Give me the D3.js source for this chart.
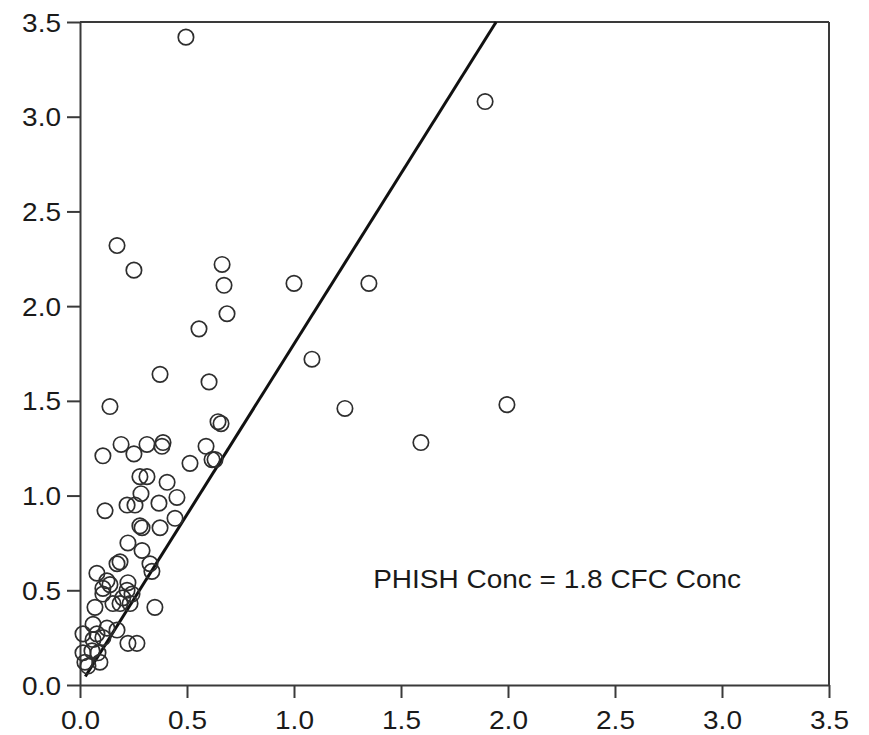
<!DOCTYPE html>
<html>
<head>
<meta charset="utf-8">
<script src="https://cdn.jsdelivr.net/npm/d3@7/dist/d3.min.js"></script>
<style>
  html, body { margin: 0; padding: 0; background: #fff; }
  svg { display: block; }
  text { font-family: "Liberation Sans", Arial, Helvetica, sans-serif; fill: #1a1a1a; }
</style>
</head>
<body>
<svg id="chart" width="869" height="735"></svg>
<script>
// CFC concentration (x) for each sample
const cfcConc = [
  0.495, 1.893, 0.173, 0.252, 0.664, 0.673, 0.687, 1.000, 1.350, 0.556,
  1.084, 0.374, 0.603, 0.140, 1.238, 1.995, 1.593, 0.645, 0.659, 0.589,
  0.617, 0.631, 0.514, 0.388, 0.383, 0.313, 0.192, 0.252, 0.107, 0.280,
  0.313, 0.407, 0.285, 0.453, 0.117, 0.220, 0.257, 0.369, 0.280, 0.290,
  0.374, 0.444, 0.224, 0.290, 0.173, 0.187, 0.327, 0.336, 0.079, 0.126,
  0.140, 0.107, 0.107, 0.224, 0.220, 0.243, 0.200, 0.187, 0.234, 0.070,
  0.350, 0.154, 0.061, 0.014, 0.079, 0.126, 0.173, 0.061, 0.107, 0.224,
  0.266, 0.014, 0.056, 0.084, 0.023, 0.093, 0.037
];
// PHISH concentration (y) for each sample
const phishConc = [
  3.42, 3.08, 2.32, 2.19, 2.22, 2.11, 1.96, 2.12, 2.12, 1.88,
  1.72, 1.64, 1.60, 1.47, 1.46, 1.48, 1.28, 1.39, 1.38, 1.26,
  1.19, 1.19, 1.17, 1.28, 1.26, 1.27, 1.27, 1.22, 1.21, 1.10,
  1.10, 1.07, 1.01, 0.99, 0.92, 0.95, 0.95, 0.96, 0.84, 0.83,
  0.83, 0.88, 0.75, 0.71, 0.64, 0.65, 0.64, 0.60, 0.59, 0.55,
  0.53, 0.51, 0.48, 0.54, 0.50, 0.48, 0.46, 0.43, 0.43, 0.41,
  0.41, 0.43, 0.32, 0.27, 0.27, 0.30, 0.29, 0.24, 0.25, 0.22,
  0.22, 0.17, 0.18, 0.17, 0.12, 0.12, 0.10
];
// Fit line: PHISH = slope * CFC
const fitSlope = 1.8;
const fitStartX = 0.025;
const fitLabel = "PHISH Conc = 1.8 CFC Conc";
const labelPos = [1.37, 0.51];  // data coords of label start (baseline)
const xTicks = [0.0, 0.5, 1.0, 1.5, 2.0, 2.5, 3.0, 3.5];
const yTicks = [0.0, 0.5, 1.0, 1.5, 2.0, 2.5, 3.0, 3.5];
const xDomain = [0, 3.5];
const yDomain = [0, 3.5];

const svg = d3.select("#chart");
const x = d3.scaleLinear().domain(xDomain).range([80, 829]);
const y = d3.scaleLinear().domain(yDomain).range([685, 22]);

const frameColor = "#3a3a3a";
const fontSize = 25;
const stretch = 1.12;

// Frame top and right
svg.append("line").attr("x1", x(0)).attr("x2", x(3.5)).attr("y1", y(3.5)).attr("y2", y(3.5))
  .attr("stroke", frameColor).attr("stroke-width", 2);
svg.append("line").attr("x1", x(3.5)).attr("x2", x(3.5)).attr("y1", y(3.5)).attr("y2", y(0))
  .attr("stroke", frameColor).attr("stroke-width", 2);

// Axes
const xAxis = d3.axisBottom(x).tickValues(xTicks).tickFormat(d3.format(".1f"))
  .tickSize(13).tickSizeOuter(0).tickPadding(0);
const yAxis = d3.axisLeft(y).tickValues(yTicks).tickFormat(d3.format(".1f"))
  .tickSize(13).tickSizeOuter(0).tickPadding(0);

const gx = svg.append("g").attr("transform", `translate(0,${y(0)})`).call(xAxis);
const gy = svg.append("g").attr("transform", `translate(${x(0)},0)`).call(yAxis);

[gx, gy].forEach(g => {
  g.select(".domain").attr("stroke", frameColor).attr("stroke-width", 2);
  g.selectAll(".tick line").attr("stroke", frameColor).attr("stroke-width", 2);
  g.selectAll(".tick text").remove();
});

// Tick labels (horizontally stretched as in reference)
gx.selectAll(".tick").append("text")
  .attr("transform", `translate(0,44) scale(${stretch},1)`)
  .attr("text-anchor", "middle")
  .attr("font-size", fontSize)
  .attr("fill", "#1a1a1a")
  .text(d => d3.format(".1f")(d));

gy.selectAll(".tick").append("text")
  .attr("transform", `translate(-19,9) scale(${stretch},1)`)
  .attr("text-anchor", "end")
  .attr("font-size", fontSize)
  .attr("fill", "#1a1a1a")
  .text(d => d3.format(".1f")(d));

// Fit line
const fitEndX = yDomain[1] / fitSlope;
svg.append("line")
  .attr("x1", x(fitStartX)).attr("y1", y(fitSlope * fitStartX))
  .attr("x2", x(fitEndX)).attr("y2", y(fitSlope * fitEndX))
  .attr("stroke", "#111").attr("stroke-width", 3);

// Points
const pts = cfcConc.map((c, i) => ({ c, p: phishConc[i] }));
svg.append("g").selectAll("circle").data(pts).join("circle")
  .attr("cx", d => x(d.c)).attr("cy", d => y(d.p)).attr("r", 7.7)
  .attr("fill", "none").attr("stroke", "#2e2e2e").attr("stroke-width", 1.7);

// Label
svg.append("text")
  .attr("transform", `translate(${x(labelPos[0])},${y(labelPos[1])}) scale(${stretch},1)`)
  .attr("font-size", fontSize)
  .attr("fill", "#1a1a1a")
  .text(fitLabel);
</script>
</body>
</html>
